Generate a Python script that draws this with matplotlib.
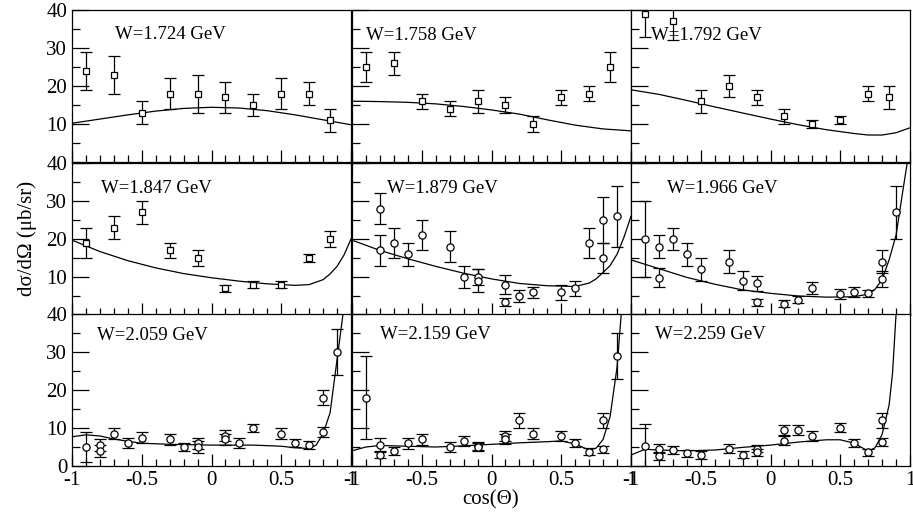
import numpy as np
import matplotlib
matplotlib.use("Agg")
import matplotlib.pyplot as plt
from matplotlib.ticker import MultipleLocator

plt.rcParams['font.family'] = ['Liberation Serif', 'DejaVu Serif']
plt.rcParams['mathtext.fontset'] = 'stix'

# --- data: cos(theta), dsigma/dOmega, error; model curve samples ---
w_1724 = "W=1.724 GeV"
cos_1724 = [-0.9, -0.7, -0.5, -0.3, -0.1, 0.1, 0.3, 0.5, 0.7, 0.85]
xs_1724 = [24, 23, 13, 18, 18, 17, 15, 18, 18, 11]
err_1724 = [5, 5, 3, 4, 5, 4, 3, 4, 3, 3]
fx_1724 = [-1, -0.8, -0.6, -0.4, -0.2, 0, 0.2, 0.4, 0.6, 0.8, 1.0]
fy_1724 = [10.2, 11.3, 12.4, 13.4, 14.1, 14.4, 14.2, 13.5, 12.4, 11.1, 9.8]

w_1758 = "W=1.758 GeV"
cos_1758 = [-0.9, -0.7, -0.5, -0.3, -0.1, 0.1, 0.3, 0.5, 0.7, 0.85]
xs_1758 = [25, 26, 16, 14, 16, 15, 10, 17, 18, 25]
err_1758 = [4, 3, 2, 2, 3, 2, 2, 2, 2, 4]
fx_1758 = [-1, -0.8, -0.6, -0.4, -0.2, 0, 0.2, 0.4, 0.6, 0.8, 1.0]
fy_1758 = [16.0, 15.9, 15.7, 15.3, 14.6, 13.7, 12.6, 11.1, 9.7, 8.7, 8.2]

w_1792 = "W=1.792 GeV"
cos_1792 = [-0.9, -0.7, -0.5, -0.3, -0.1, 0.1, 0.3, 0.5, 0.7, 0.85]
xs_1792 = [39, 37, 16, 20, 17, 12, 10, 11, 18, 17]
err_1792 = [6, 5, 3, 3, 2, 2, 1, 1, 2, 3]
fx_1792 = [-1, -0.8, -0.6, -0.4, -0.2, 0, 0.2, 0.4, 0.6, 0.7, 0.8, 0.9, 1.0]
fy_1792 = [19.0, 17.8, 16.2, 14.5, 12.9, 11.3, 9.8, 8.5, 7.5, 7.1, 7.1, 7.7, 9.0]

w_1847 = "W=1.847 GeV"
cos_1847 = [-0.9, -0.7, -0.5, -0.3, -0.1, 0.1, 0.3, 0.5, 0.7, 0.85]
xs_1847 = [19, 23, 27, 17, 15, 7, 8, 8, 15, 20]
err_1847 = [4, 3, 3, 2, 2, 1, 1, 1, 1, 2]
fx_1847 = [-1, -0.8, -0.6, -0.4, -0.2, 0, 0.2, 0.4, 0.6, 0.7, 0.8, 0.85, 0.9, 0.95, 1.0]
fy_1847 = [19.7, 16.7, 14.3, 12.4, 10.9, 9.8, 8.9, 8.2, 7.8, 8.0, 9.3, 10.8, 12.8, 15.8, 20.0]

w_1879 = "W=1.879 GeV"
cos_1879 = [-0.8, -0.8, -0.7, -0.6, -0.5, -0.3, -0.2, -0.1, -0.1, 0.1,
            0.1, 0.2, 0.3, 0.5, 0.6, 0.7, 0.8, 0.8, 0.9]
xs_1879 = [28, 17, 19, 16, 21, 18, 10, 10, 9, 8,
           3.5, 5, 6, 6, 7, 19, 25, 15, 26]
err_1879 = [4, 4, 4, 3, 4, 4, 3, 2, 3, 2.5,
            1, 1.5, 1.5, 2, 2, 4, 6, 4, 8]
fx_1879 = [-1, -0.8, -0.6, -0.4, -0.2, 0, 0.2, 0.4, 0.6, 0.7, 0.75, 0.8,
           0.85, 0.9, 0.95, 1.0]
fy_1879 = [19.7, 17.0, 14.8, 12.8, 11.0, 9.5, 8.3, 7.7, 7.5, 8.4, 9.5, 11.2,
           13.0, 16.0, 20.5, 26.0]

w_1966 = "W=1.966 GeV"
cos_1966 = [-0.9, -0.8, -0.8, -0.7, -0.6, -0.5, -0.3, -0.2, -0.1, -0.1,
            0.1, 0.2, 0.3, 0.5, 0.6, 0.7, 0.8, 0.8, 0.9]
xs_1966 = [20, 18, 9.8, 20, 16, 12, 14, 9, 8.3, 3.3,
           3, 4, 7, 5.5, 6, 5.7, 14, 9.5, 27]
err_1966 = [10, 3, 2.5, 3, 3, 3, 3, 2.5, 2, 1,
            1, 0.9, 1.6, 1.4, 1.3, 0.9, 3, 2, 7]
fx_1966 = [-1, -0.8, -0.6, -0.4, -0.2, 0, 0.2, 0.4, 0.6, 0.7, 0.75, 0.8,
           0.85, 0.9, 0.95, 0.98, 1.0]
fy_1966 = [14.5, 12.2, 9.9, 8.1, 6.6, 5.7, 5.0, 4.7, 4.8, 5.5, 6.8, 9.3,
           14.5, 21.0, 33.0, 40.0, 45.0]

w_2059 = "W=2.059 GeV"
cos_2059 = [-0.9, -0.8, -0.8, -0.7, -0.6, -0.5, -0.3, -0.2, -0.1, -0.1,
            0.1, 0.1, 0.2, 0.3, 0.5, 0.6, 0.7, 0.8, 0.8, 0.9]
xs_2059 = [5, 5.5, 4, 8.5, 6, 7.5, 7, 5, 6, 5,
           8, 7, 6, 10, 8.5, 6, 5.5, 18, 9, 30]
err_2059 = [4, 1.5, 1.5, 1.5, 1.3, 1.5, 1.5, 1, 1.5, 1.5,
            1.5, 1.5, 1.3, 1, 1.5, 1, 1, 2, 1.3, 6]
fx_2059 = [-1, -0.9, -0.8, -0.7, -0.6, -0.5, -0.3, 0, 0.3, 0.5, 0.6, 0.7,
           0.75, 0.8, 0.85, 0.9, 0.95, 1.0]
fy_2059 = [7.7, 8.2, 7.9, 7.1, 6.5, 6.0, 5.7, 5.5, 5.5, 5.2, 4.8, 4.6,
           5.5, 8.5, 14.0, 28.0, 42.0, 55.0]

w_2159 = "W=2.159 GeV"
cos_2159 = [-0.9, -0.8, -0.8, -0.7, -0.6, -0.5, -0.3, -0.2, -0.1, -0.1,
            0.1, 0.1, 0.2, 0.3, 0.5, 0.6, 0.7, 0.8, 0.8, 0.9]
xs_2159 = [18, 5.5, 3, 4, 6, 7, 5, 6.5, 5.3, 5,
           8, 7, 12, 8.5, 8, 6, 3.8, 12, 4.4, 29]
err_2159 = [11, 1.8, 1, 1, 1.5, 1.5, 1.3, 1.3, 1, 1,
            1.3, 1.3, 2, 1.5, 1.3, 1, 1, 2, 0.9, 6]
fx_2159 = [-1, -0.9, -0.8, -0.6, -0.4, -0.2, 0, 0.2, 0.4, 0.5, 0.6, 0.7,
           0.75, 0.8, 0.85, 0.9, 0.93, 0.95]
fy_2159 = [4.0, 5.0, 5.4, 5.2, 5.0, 5.3, 5.7, 6.1, 6.4, 6.6, 5.8, 4.2,
           4.7, 7.0, 13.0, 26.0, 40.0, 50.0]

w_2259 = "W=2.259 GeV"
cos_2259 = [-0.9, -0.8, -0.8, -0.7, -0.6, -0.5, -0.3, -0.2, -0.1, -0.1,
            0.1, 0.1, 0.2, 0.3, 0.5, 0.6, 0.7, 0.8, 0.8]
xs_2259 = [5.3, 4.6, 2.7, 4.2, 3.3, 2.9, 4.6, 3, 4.6, 3.6,
           9.5, 6.7, 9.5, 7.9, 10.1, 6.1, 3.6, 12, 6.4]
err_2259 = [5.7, 1.3, 1, 1, 1, 1, 1.2, 1, 1, 1,
            1.3, 1.3, 1.3, 1.3, 1.2, 1, 1, 2, 1.1]
fx_2259 = [-1, -0.9, -0.8, -0.6, -0.4, -0.2, 0, 0.2, 0.4, 0.5, 0.6, 0.7,
           0.75, 0.8, 0.85, 0.875, 0.9, 0.95]
fy_2259 = [2.9, 4.4, 4.2, 4.0, 4.2, 4.9, 5.5, 6.3, 6.9, 6.9, 6.0, 3.9,
           4.8, 8.3, 16.0, 24.5, 40.0, 60.0]

panels = [
    (w_1724, cos_1724, xs_1724, err_1724, fx_1724, fy_1724, 's'),
    (w_1758, cos_1758, xs_1758, err_1758, fx_1758, fy_1758, 's'),
    (w_1792, cos_1792, xs_1792, err_1792, fx_1792, fy_1792, 's'),
    (w_1847, cos_1847, xs_1847, err_1847, fx_1847, fy_1847, 's'),
    (w_1879, cos_1879, xs_1879, err_1879, fx_1879, fy_1879, 'o'),
    (w_1966, cos_1966, xs_1966, err_1966, fx_1966, fy_1966, 'o'),
    (w_2059, cos_2059, xs_2059, err_2059, fx_2059, fy_2059, 'o'),
    (w_2159, cos_2159, xs_2159, err_2159, fx_2159, fy_2159, 'o'),
    (w_2259, cos_2259, xs_2259, err_2259, fx_2259, fy_2259, 'o'),
]
# where each W label starts (cos) and its baseline
label_x = [-0.69, -0.9, -0.86, -0.79, -0.75, -0.745, -0.82, -0.8, -0.83]
label_y = [32.4, 32.1, 32.1, 32.0, 32.0, 32.0, 33.2, 33.5, 33.3]

fig = plt.figure(figsize=(9.13, 5.14), dpi=100)
W, H = 913.0, 514.0
x_left = [72, 352, 631]
y_top = [10, 163, 314]
pw, ph = 279, 152

for k, (label, cs, vals, errs, fx, fy, mk) in enumerate(panels):
    row, col = divmod(k, 3)
    ax = fig.add_axes([x_left[col] / W, 1 - (y_top[row] + ph) / H, pw / W, ph / H])
    ax.plot(fx, fy, color='black', lw=0.9)
    ms = 4.2 if mk == 's' else 5.2
    ax.errorbar(cs, vals, yerr=errs, fmt=mk, mfc='white', mec='black',
                ms=ms, mew=0.9, ecolor='black', elinewidth=0.9,
                capsize=4.5, capthick=0.9, zorder=3)
    ax.text(label_x[k], label_y[k], label, fontsize=13.5, va='baseline')
    ax.set_xlim(-1, 1)
    ax.set_ylim(0, 40)
    ax.xaxis.set_major_locator(MultipleLocator(0.5))
    ax.xaxis.set_minor_locator(MultipleLocator(0.1))
    ax.yaxis.set_major_locator(MultipleLocator(10))
    ax.yaxis.set_minor_locator(MultipleLocator(5))
    ax.tick_params(which='both', direction='in', top=False, right=False,
                   labelsize=15, width=0.9)
    ax.tick_params(axis='x', which='major', length=9)
    ax.tick_params(axis='x', which='minor', length=5)
    ax.tick_params(axis='y', which='major', length=12)
    ax.tick_params(axis='y', which='minor', length=6)
    for s in ax.spines.values():
        s.set_linewidth(0.9)
    if row == 2:
        ax.set_xticks([-1, -0.5, 0, 0.5, 1])
        ax.set_xticklabels(['-1', '-0.5', '0', '0.5', '1'])
    else:
        ax.set_xticklabels([])
    if col == 0:
        if row == 2:
            ax.set_yticks([0, 10, 20, 30, 40])
            ax.set_yticklabels(['0', '10', '20', '30', '40'])
        else:
            ax.set_yticks([10, 20, 30, 40])
            ax.set_yticklabels(['10', '20', '30', '40'])
    else:
        ax.set_yticklabels([])

fig.text(491 / W, 1 - 500 / H, 'cos(Θ)', fontsize=15, ha='center', va='center')
fig.text(27 / W, 1 - 238 / H, 'dσ/dΩ (μb/sr)', fontsize=15, rotation=90,
         ha='center', va='center')

fig.savefig('out.png', dpi=100)
